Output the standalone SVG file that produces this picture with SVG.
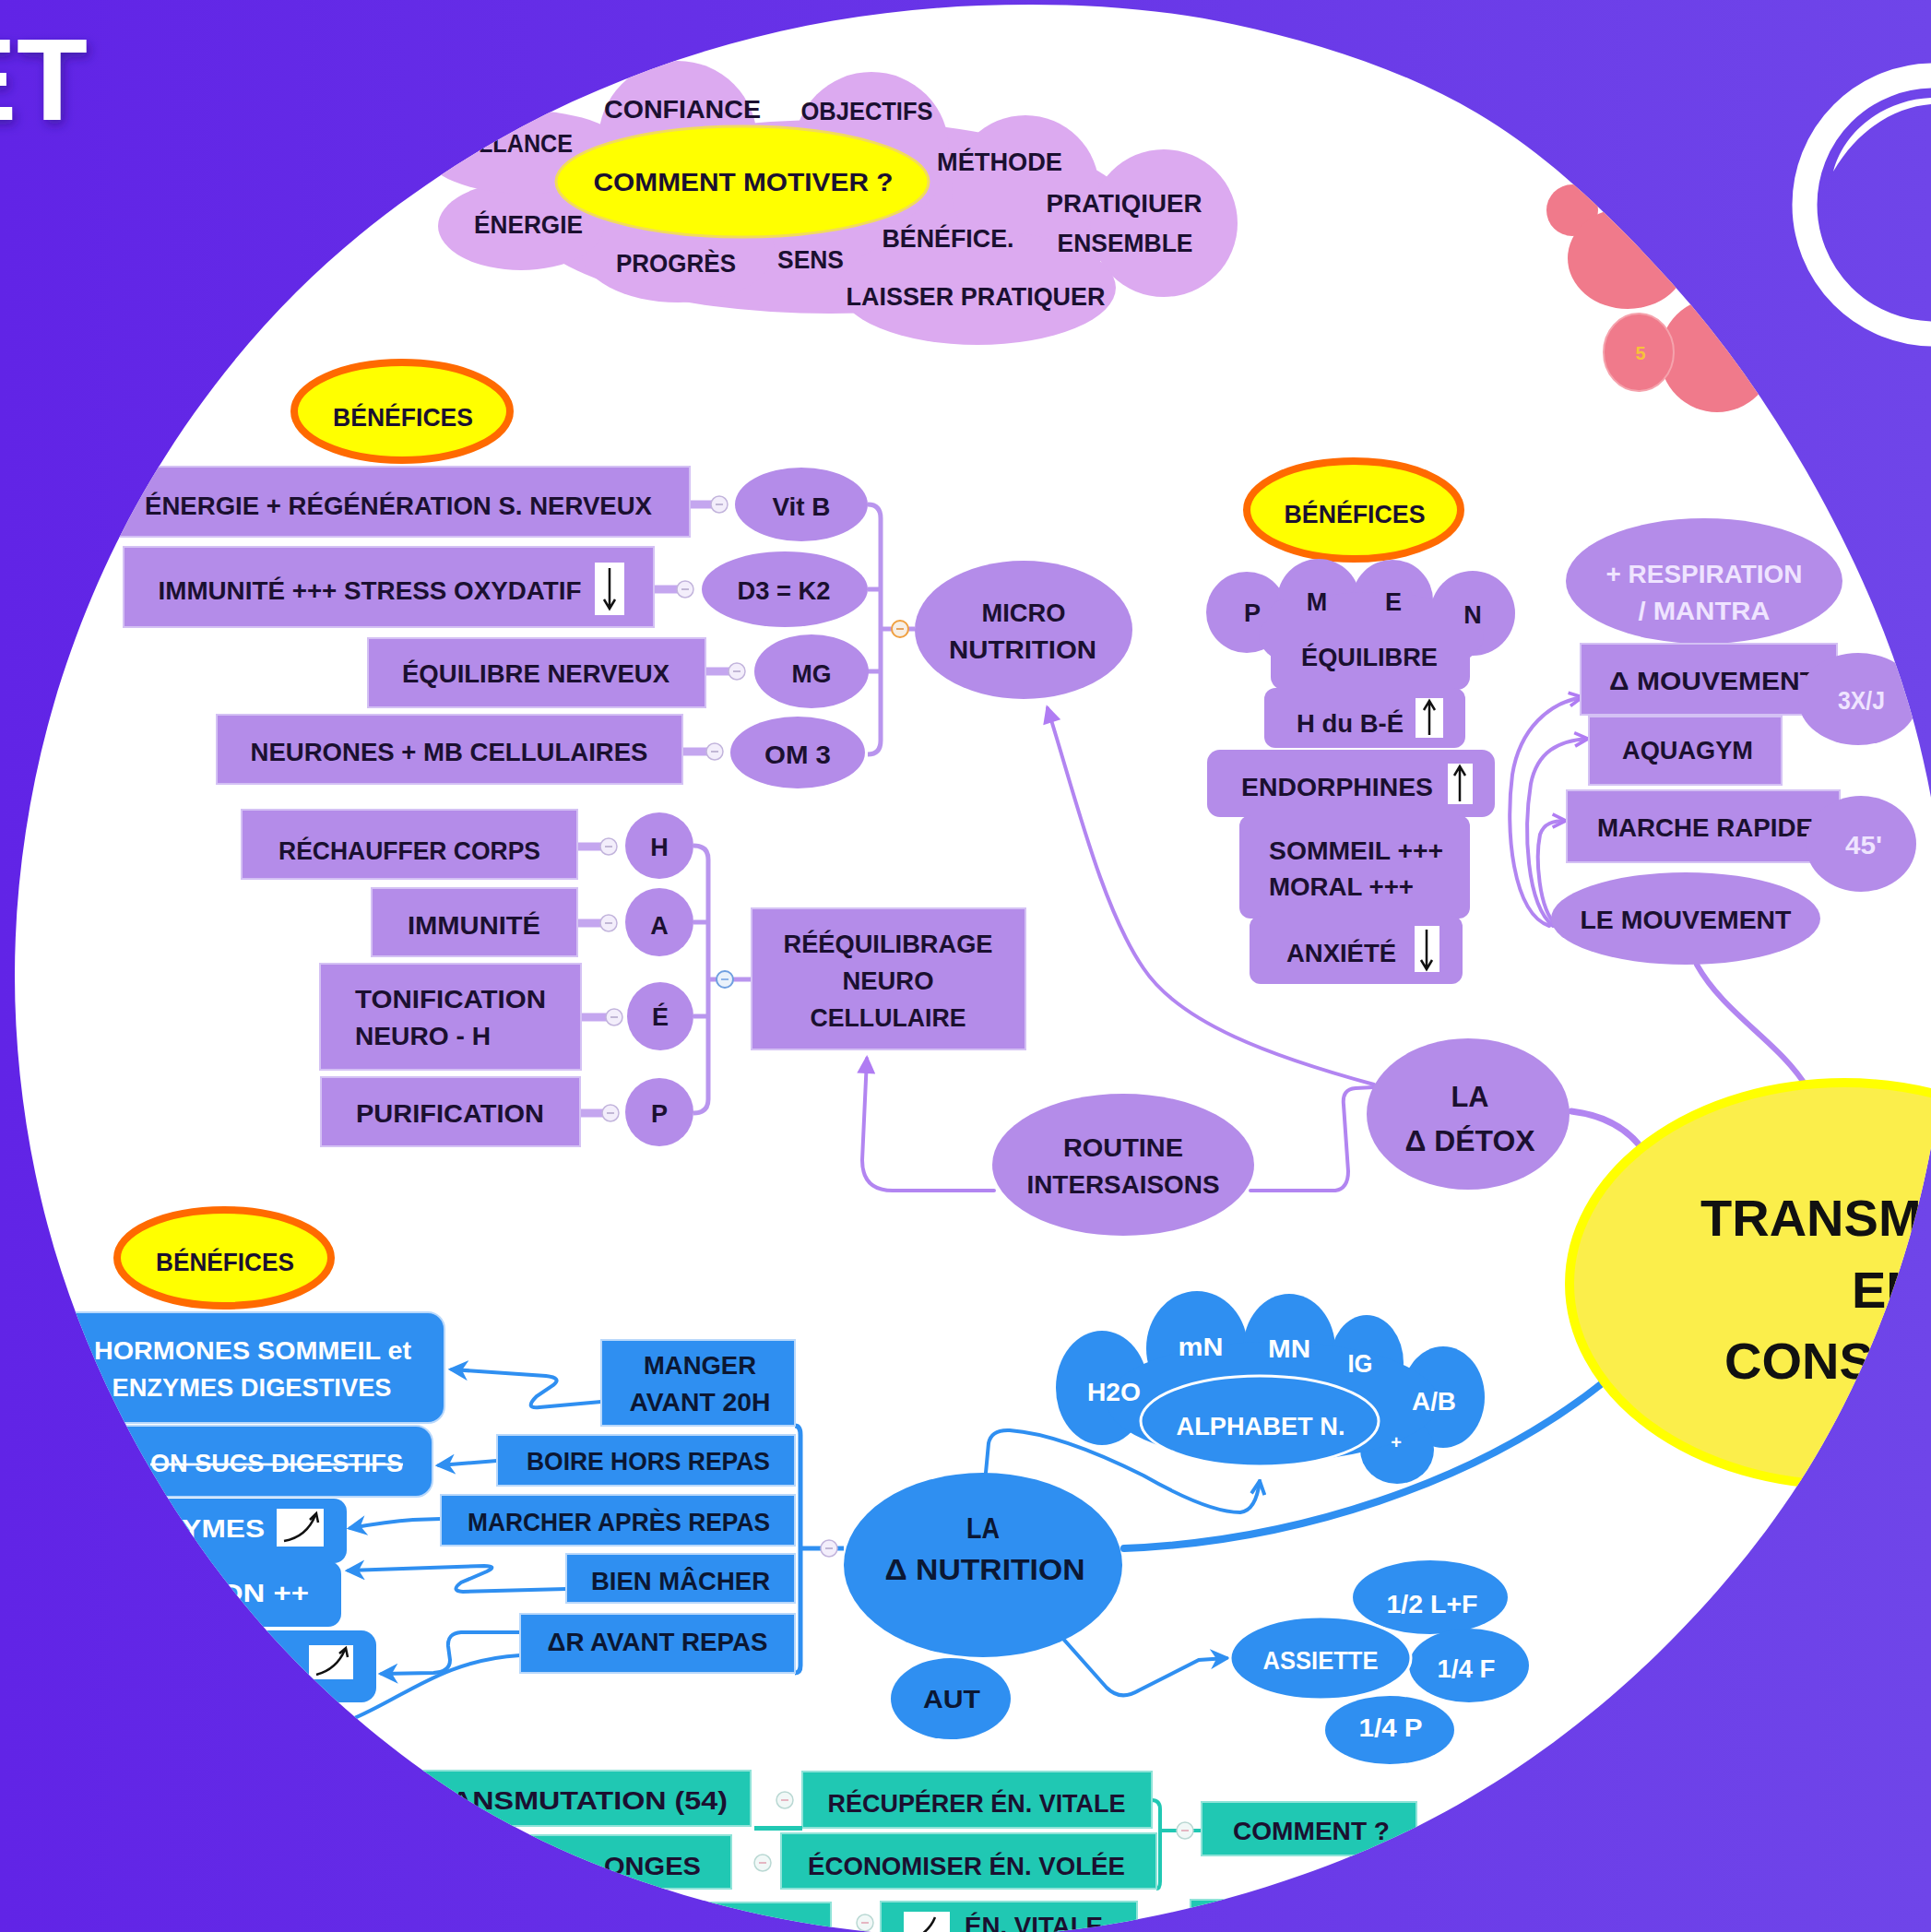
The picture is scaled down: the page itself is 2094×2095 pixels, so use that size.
<svg xmlns="http://www.w3.org/2000/svg" width="2094" height="2095" viewBox="0 0 2094 2095">
<defs>
<linearGradient id="bg" x1="0" y1="0" x2="1" y2="0">
<stop offset="0" stop-color="#6124e6"/><stop offset="1" stop-color="#6f45e9"/>
</linearGradient>
<path id="discShape" d="M16,1058 C16,967.77 28.48,874.55 51.7,787.3 C74.92,700.05 110.42,612.88 155.3,534.5 C200.18,456.12 257.05,380.72 321,317 C384.95,253.28 460.62,197.08 539,152.2 C617.38,107.32 704.13,72.07 791.3,47.7 C878.47,23.33 970.82,9.55 1062,6 C1153.18,2.45 1248.4,6.95 1338.4,26.4 C1428.4,45.85 1522.9,75.93 1602,122.7 C1681.1,169.47 1751.45,238.62 1813,307 C1874.55,375.38 1927.43,453.12 1971.3,533 C2015.17,612.88 2052.75,698.8 2076.2,786.3 C2099.65,873.8 2112.32,967.52 2112,1058 C2111.68,1148.48 2098.33,1242.03 2074.3,1329.2 C2050.27,1416.37 2013.95,1503.63 1967.8,1581 C1921.65,1658.37 1861.87,1730.75 1797.4,1793.4 C1732.93,1856.05 1658.88,1912.68 1581,1956.9 C1503.12,2001.12 1416.6,2034.85 1330.1,2058.7 C1243.6,2082.55 1151.8,2098.4 1062,2100 C972.2,2101.6 878.97,2090.12 791.3,2068.3 C703.63,2046.48 614.63,2013.73 536,1969.1 C457.37,1924.47 382.82,1865.18 319.5,1800.5 C256.18,1735.82 200.73,1659.63 156.1,1581 C111.47,1502.37 75.05,1415.87 51.7,1328.7 C28.35,1241.53 16,1148.23 16,1058 Z"/>
<clipPath id="disc"><use href="#discShape"/></clipPath>
<filter id="sh" x="-30%" y="-30%" width="160%" height="160%"><feDropShadow dx="3" dy="5" stdDeviation="6" flood-color="#2b0c7a" flood-opacity="0.55"/></filter>
<marker id="mP" viewBox="0 0 10 10" refX="8" refY="5" markerWidth="22" markerHeight="20" markerUnits="userSpaceOnUse" orient="auto"><path d="M0,0 L10,5 L0,10 Z" fill="#b07cf3"/></marker>
<marker id="mPo" viewBox="0 0 10 10" refX="9" refY="5" markerWidth="18" markerHeight="18" markerUnits="userSpaceOnUse" orient="auto"><path d="M1,1 L9,5 L1,9" fill="none" stroke="#b07cf3" stroke-width="2"/></marker>
<marker id="mB" viewBox="0 0 10 10" refX="8" refY="5" markerWidth="22" markerHeight="22" markerUnits="userSpaceOnUse" orient="auto"><path d="M0,0 L10,5 L0,10 L3,5 Z" fill="#2f8ff1"/></marker>
<marker id="mBo" viewBox="0 0 10 10" refX="9" refY="5" markerWidth="18" markerHeight="18" markerUnits="userSpaceOnUse" orient="auto"><path d="M1,1 L9,5 L1,9" fill="none" stroke="#2f8ff1" stroke-width="2.2"/></marker>
<g id="icP"><circle r="9" fill="#f3eefb" stroke="#c2b4dc" stroke-width="1.5"/><path d="M-4,0H4" stroke="#b0a4c8" stroke-width="1.5"/></g>
<g id="icO"><circle r="9" fill="#f7efe6" stroke="#f0a040" stroke-width="2"/><path d="M-4,0H4" stroke="#e08a30" stroke-width="1.5"/></g>
<g id="icB"><circle r="9" fill="#eaf2fb" stroke="#6f9fe0" stroke-width="2"/><path d="M-4,0H4" stroke="#6f9fe0" stroke-width="1.5"/></g>
<g id="icT"><circle r="9" fill="#f1f8f7" stroke="#b9d8d3" stroke-width="1.5"/><path d="M-4,0H4" stroke="#e0a0b0" stroke-width="1.5"/></g>
</defs>
<style>
.t{font-family:"Liberation Sans",Arial,sans-serif;font-weight:700;font-size:27px;fill:#1b1030;text-anchor:middle}
.s{text-anchor:start}
.e{text-anchor:end}
.w{fill:#ffffff}
.l{fill:#efe4ff}
.n{fill:#0b1733}
.big{font-size:31px}
.cl{fill:#dcaaf0}
.pn{fill:#b48ce9}
.pr{fill:#b48ce9;stroke:#d4c1f4;stroke-width:2}
.bl{fill:#2f8ff1}
.br{fill:#2f8ff1;stroke:#b9d8fb;stroke-width:2}
.tl{fill:#20c8b3;stroke:#8fe3d8;stroke-width:2}
.be{fill:#ffff00;stroke:#ff6a00;stroke-width:8}
.cp{fill:none;stroke:#b285f1;stroke-width:4;stroke-linecap:round}
.cb{fill:none;stroke:#2f8ff1;stroke-width:4;stroke-linecap:round}
.stub{stroke:#c4a6ef;stroke-width:9}
.brk{fill:none;stroke:#b995ee;stroke-width:5}
.wb{fill:#ffffff}
.ar{fill:none;stroke:#111;stroke-width:2.5}
</style>
<rect width="2094" height="2095" fill="url(#bg)"/>
<use href="#discShape" fill="#ffffff"/>

<g clip-path="url(#disc)">

<g id="pink-shapes" fill="#f07a8b">
<circle cx="1705" cy="228" r="28"/>
<ellipse cx="1765" cy="280" rx="65" ry="55"/>
<ellipse cx="1862" cy="385" rx="62" ry="62"/>
<ellipse cx="1777" cy="382" rx="38" ry="42" stroke="#f5a3ad" stroke-width="2"/>
<text x="1779" y="390" font-family="Liberation Sans,Arial,sans-serif" font-weight="700" font-size="20" fill="#f7c23a" text-anchor="middle">5</text>
</g>

<g id="connectors">
<path class="cp" d="M1490,1176 C1380,1146 1280,1110 1240,1050 C1195,985 1165,860 1136,768" marker-end="url(#mP)"/>
<path class="cp" d="M1078,1291 L968,1291 Q935,1291 935,1258 L940,1148" marker-end="url(#mP)"/>
<path class="cp" d="M1356,1291 L1448,1291 Q1462,1289 1462,1270 L1457,1198 Q1455,1181 1470,1180 L1490,1179"/>
<path class="cp" d="M1680,1004 C1640,990 1632,900 1640,840 C1648,790 1680,762 1716,756" marker-end="url(#mPo)"/>
<path class="cp" d="M1684,1004 C1655,980 1652,900 1660,850 C1667,815 1690,803 1722,801" marker-end="url(#mPo)"/>
<path class="cp" d="M1688,1004 C1668,985 1665,930 1670,905 C1674,893 1684,890 1698,890" marker-end="url(#mPo)"/>
<path fill="none" stroke="#b285f1" stroke-width="6" stroke-linecap="round" d="M1840,1046 C1870,1100 1930,1130 1960,1180"/>
<path fill="none" stroke="#b285f1" stroke-width="7" stroke-linecap="round" d="M1704,1205 C1745,1210 1770,1228 1785,1252"/>
<path fill="none" stroke="#2f8ff1" stroke-width="8" stroke-linecap="round" d="M1219,1679 C1400,1672 1600,1610 1740,1498"/>
<path class="cb" d="M1069,1597 L1072,1565 Q1075,1550 1095,1551 Q1150,1555 1240,1600 Q1310,1640 1345,1640 Q1362,1638 1366,1606" marker-end="url(#mBo)"/>
<path class="cb" d="M1136,1758 L1200,1830 Q1215,1845 1235,1833 L1300,1800 L1330,1798" marker-end="url(#mB)"/>
<path class="cb" d="M652,1520 L585,1526 Q568,1528 582,1514 L600,1502 Q610,1494 592,1492 L490,1485" marker-end="url(#mB)"/>
<path class="cb" d="M539,1584 L476,1589" marker-end="url(#mB)"/>
<path class="cb" d="M478,1647 L448,1648 Q420,1650 380,1657" marker-end="url(#mB)"/>
<path class="cb" d="M614,1723 L502,1726 Q488,1725 500,1716 L528,1704 Q540,1698 525,1698 L378,1703" marker-end="url(#mB)"/>
<path class="cb" d="M564,1770 L500,1770 Q485,1771 486,1785 L488,1800 Q488,1813 470,1814 L414,1815" marker-end="url(#mB)"/>
<path class="cb" d="M564,1795 C480,1800 440,1840 380,1865"/>
<path class="brk" d="M941,547 Q955,547 955,562 V803 Q955,818 941,818 M941,639 H955 M941,728 H955 M955,682 H992"/>
<path class="brk" d="M752,917 Q768,917 768,932 V1192 Q768,1207 752,1207 M752,1000 H768 M752,1102 H768 M768,1062 H815"/>
<path fill="none" stroke="#2f8ff1" stroke-width="5" d="M862,1546 Q868,1546 868,1556 V1806 Q868,1814 862,1814 M868,1679 H915"/>
<path fill="none" stroke="#20c8b3" stroke-width="4" d="M1249,1952 Q1258,1952 1258,1962 V2040 Q1258,2048 1254,2048 M1258,1985 H1303"/>
<g class="stub">
<line x1="746" y1="547" x2="772" y2="547"/><line x1="709" y1="639" x2="735" y2="639"/><line x1="765" y1="728" x2="791" y2="728"/><line x1="740" y1="815" x2="767" y2="815"/>
<line x1="626" y1="918" x2="652" y2="918"/><line x1="626" y1="1001" x2="652" y2="1001"/><line x1="630" y1="1103" x2="658" y2="1103"/><line x1="629" y1="1207" x2="654" y2="1207"/>
</g>
</g>

<g id="node-motiver">
<g class="cl">
<ellipse cx="900" cy="235" rx="330" ry="105"/>
<circle cx="735" cy="152" r="86"/>
<circle cx="945" cy="162" r="84"/>
<circle cx="1112" cy="205" r="80"/>
<circle cx="1262" cy="242" r="80"/>
<ellipse cx="1060" cy="312" rx="150" ry="62"/>
<ellipse cx="735" cy="272" rx="105" ry="56"/>
<ellipse cx="565" cy="245" rx="90" ry="48"/>
<ellipse cx="570" cy="165" rx="110" ry="45"/>
</g>
<ellipse cx="805" cy="197" rx="202" ry="60" fill="#ffff00" stroke="#f2dc5a" stroke-width="3"/>
<text class="t" x="740" y="128" textLength="170" lengthAdjust="spacingAndGlyphs">CONFIANCE</text>
<text class="t" x="940" y="130" textLength="143" lengthAdjust="spacingAndGlyphs">OBJECTIFS</text>
<text class="t s" x="512" y="165" textLength="109" lengthAdjust="spacingAndGlyphs">ILLANCE</text>
<text class="t" x="806" y="207" textLength="325" lengthAdjust="spacingAndGlyphs">COMMENT MOTIVER ?</text>
<text class="t" x="1084" y="185" textLength="136" lengthAdjust="spacingAndGlyphs">MÉTHODE</text>
<text class="t" x="573" y="253" textLength="118" lengthAdjust="spacingAndGlyphs">ÉNERGIE</text>
<text class="t" x="1219" y="230" textLength="169" lengthAdjust="spacingAndGlyphs">PRATIQIUER</text>
<text class="t" x="1028" y="268" textLength="143" lengthAdjust="spacingAndGlyphs">BÉNÉFICE.</text>
<text class="t" x="1220" y="273" textLength="147" lengthAdjust="spacingAndGlyphs">ENSEMBLE</text>
<text class="t" x="733" y="295" textLength="130" lengthAdjust="spacingAndGlyphs">PROGRÈS</text>
<text class="t" x="879" y="291" textLength="72" lengthAdjust="spacingAndGlyphs">SENS</text>
<text class="t" x="1058" y="331" textLength="281" lengthAdjust="spacingAndGlyphs">LAISSER PRATIQUER</text>
</g>

<g id="node-benefices-1">
<ellipse class="be" cx="436" cy="446" rx="117" ry="53"/>
<text class="t" x="437" y="462" textLength="152" lengthAdjust="spacingAndGlyphs">BÉNÉFICES</text>
</g>

<g id="node-energie">
<rect class="pr" x="100" y="506" width="648" height="76"/>
<text class="t" x="432" y="558" textLength="550" lengthAdjust="spacingAndGlyphs">ÉNERGIE + RÉGÉNÉRATION S. NERVEUX</text>
</g>
<g id="node-immunite-stress">
<rect class="pr" x="134" y="593" width="575" height="87"/>
<text class="t" x="401" y="650" textLength="459" lengthAdjust="spacingAndGlyphs">IMMUNITÉ +++ STRESS OXYDATIF</text>
<rect class="wb" x="645" y="610" width="32" height="57"/>
<path class="ar" d="M661,616 V659 M655,650 L661,660 L667,650"/>
</g>
<g id="node-equilibre-nerveux">
<rect class="pr" x="399" y="692" width="366" height="75"/>
<text class="t" x="581" y="740" textLength="290" lengthAdjust="spacingAndGlyphs">ÉQUILIBRE NERVEUX</text>
</g>
<g id="node-neurones">
<rect class="pr" x="235" y="775" width="505" height="75"/>
<text class="t" x="487" y="825" textLength="431" lengthAdjust="spacingAndGlyphs">NEURONES + MB CELLULAIRES</text>
</g>
<g id="node-vitb"><ellipse class="pn" cx="869" cy="547" rx="72" ry="40"/><text class="t" x="869" y="559" textLength="63" lengthAdjust="spacingAndGlyphs">Vit B</text></g>
<g id="node-d3k2"><ellipse class="pn" cx="851" cy="639" rx="90" ry="41"/><text class="t" x="850" y="650" textLength="101" lengthAdjust="spacingAndGlyphs">D3 = K2</text></g>
<g id="node-mg"><ellipse class="pn" cx="880" cy="728" rx="62" ry="40"/><text class="t" x="880" y="740" textLength="43" lengthAdjust="spacingAndGlyphs">MG</text></g>
<g id="node-om3"><ellipse class="pn" cx="865" cy="816" rx="73" ry="39"/><text class="t" x="865" y="828" textLength="72" lengthAdjust="spacingAndGlyphs">OM 3</text></g>
<g id="icons-1">
<use href="#icP" x="780" y="547"/><use href="#icP" x="743" y="639"/><use href="#icP" x="799" y="728"/><use href="#icP" x="775" y="815"/>
<use href="#icO" x="976" y="682"/>
</g>
<g id="node-micro-nutrition">
<ellipse class="pn" cx="1110" cy="683" rx="118" ry="75"/>
<text class="t" x="1110" y="674" textLength="91" lengthAdjust="spacingAndGlyphs">MICRO</text>
<text class="t" x="1109" y="714" textLength="160" lengthAdjust="spacingAndGlyphs">NUTRITION</text>
</g>

<g id="node-rechauffer"><rect class="pr" x="262" y="878" width="364" height="75"/><text class="t" x="444" y="932" textLength="284" lengthAdjust="spacingAndGlyphs">RÉCHAUFFER CORPS</text></g>
<g id="node-immunite"><rect class="pr" x="403" y="963" width="223" height="74"/><text class="t" x="514" y="1013" textLength="144" lengthAdjust="spacingAndGlyphs">IMMUNITÉ</text></g>
<g id="node-tonification"><rect class="pr" x="347" y="1045" width="283" height="115"/><text class="t s" x="385" y="1093" textLength="207" lengthAdjust="spacingAndGlyphs">TONIFICATION</text><text class="t s" x="385" y="1133" textLength="147" lengthAdjust="spacingAndGlyphs">NEURO - H</text></g>
<g id="node-purification"><rect class="pr" x="348" y="1168" width="281" height="75"/><text class="t" x="488" y="1217" textLength="204" lengthAdjust="spacingAndGlyphs">PURIFICATION</text></g>
<g id="node-h"><ellipse class="pn" cx="715" cy="917" rx="37" ry="36"/><text class="t" x="715" y="928">H</text></g>
<g id="node-a"><ellipse class="pn" cx="715" cy="1000" rx="37" ry="37"/><text class="t" x="715" y="1013">A</text></g>
<g id="node-e"><ellipse class="pn" cx="716" cy="1102" rx="36" ry="37"/><text class="t" x="716" y="1112">É</text></g>
<g id="node-p"><ellipse class="pn" cx="715" cy="1206" rx="37" ry="37"/><text class="t" x="715" y="1217">P</text></g>
<g id="icons-2">
<use href="#icP" x="660" y="918"/><use href="#icP" x="660" y="1001"/><use href="#icP" x="666" y="1103"/><use href="#icP" x="662" y="1207"/>
<use href="#icB" x="786" y="1062"/>
</g>
<g id="node-reequilibrage">
<rect class="pr" x="815" y="985" width="297" height="153"/>
<text class="t" x="963" y="1033" textLength="227" lengthAdjust="spacingAndGlyphs">RÉÉQUILIBRAGE</text>
<text class="t" x="963" y="1073" textLength="99" lengthAdjust="spacingAndGlyphs">NEURO</text>
<text class="t" x="963" y="1113" textLength="169" lengthAdjust="spacingAndGlyphs">CELLULAIRE</text>
</g>
<g id="node-routine">
<ellipse class="pn" cx="1218" cy="1263" rx="142" ry="77"/>
<text class="t" x="1218" y="1254" textLength="130" lengthAdjust="spacingAndGlyphs">ROUTINE</text>
<text class="t" x="1218" y="1294" textLength="209" lengthAdjust="spacingAndGlyphs">INTERSAISONS</text>
</g>
<g id="node-detox">
<ellipse class="pn" cx="1592" cy="1208" rx="110" ry="82"/>
<text class="t big" x="1594" y="1200" textLength="41" lengthAdjust="spacingAndGlyphs">LA</text>
<text class="t big" x="1594" y="1248" textLength="141" lengthAdjust="spacingAndGlyphs">Δ DÉTOX</text>
</g>

<g id="node-benefices-2">
<ellipse class="be" cx="1468" cy="553" rx="116" ry="53"/>
<text class="t" x="1469" y="567" textLength="153" lengthAdjust="spacingAndGlyphs">BÉNÉFICES</text>
</g>
<g id="node-pmen">
<g class="pn">
<circle cx="1352" cy="664" r="44"/><circle cx="1430" cy="651" r="45"/><circle cx="1510" cy="651" r="44"/><circle cx="1597" cy="665" r="46"/>
<ellipse cx="1487" cy="690" rx="122" ry="48"/>
<rect x="1378" y="650" width="216" height="98" rx="14"/>
</g>
<text class="t" x="1358" y="674">P</text>
<text class="t" x="1428" y="662">M</text>
<text class="t" x="1511" y="662">E</text>
<text class="t" x="1597" y="676">N</text>
<text class="t" x="1485" y="722" textLength="148" lengthAdjust="spacingAndGlyphs">ÉQUILIBRE</text>
</g>
<g id="node-hdube">
<rect class="pn" x="1371" y="746" width="218" height="65" rx="12"/>
<text class="t s" x="1406" y="794" textLength="116" lengthAdjust="spacingAndGlyphs">H du B-É</text>
<rect class="wb" x="1535" y="757" width="30" height="43"/>
<path class="ar" d="M1550,797 V761 M1544,770 L1550,760 L1556,770"/>
</g>
<g id="node-endorphines">
<rect class="pn" x="1309" y="813" width="312" height="73" rx="14"/>
<text class="t s" x="1346" y="863" textLength="208" lengthAdjust="spacingAndGlyphs">ENDORPHINES</text>
<rect class="wb" x="1570" y="828" width="27" height="44"/>
<path class="ar" d="M1583,869 V832 M1577,841 L1583,831 L1589,841"/>
</g>
<g id="node-sommeil">
<rect class="pn" x="1344" y="884" width="250" height="112" rx="12"/>
<text class="t s" x="1376" y="932" textLength="189" lengthAdjust="spacingAndGlyphs">SOMMEIL +++</text>
<text class="t s" x="1376" y="971" textLength="157" lengthAdjust="spacingAndGlyphs">MORAL +++</text>
</g>
<g id="node-anxiete">
<rect class="pn" x="1355" y="993" width="231" height="74" rx="12"/>
<text class="t s" x="1395" y="1043" textLength="119" lengthAdjust="spacingAndGlyphs">ANXIÉTÉ</text>
<rect class="wb" x="1534" y="1004" width="27" height="50"/>
<path class="ar" d="M1547,1008 V1050 M1541,1041 L1547,1051 L1553,1041"/>
</g>

<g id="node-respiration">
<ellipse class="pn" cx="1848" cy="630" rx="150" ry="68"/>
<text class="t l" x="1848" y="632" textLength="213" lengthAdjust="spacingAndGlyphs">+ RESPIRATION</text>
<text class="t l" x="1848" y="672" textLength="143" lengthAdjust="spacingAndGlyphs">/ MANTRA</text>
</g>
<g id="node-delta-mouvement">
<rect class="pr" x="1714" y="698" width="278" height="77"/>
<text class="t s" x="1745" y="748" textLength="225" lengthAdjust="spacingAndGlyphs">Δ MOUVEMENT</text>
</g>
<g id="node-3xj"><ellipse class="pn" cx="2015" cy="758" rx="65" ry="50"/><text class="t s l" x="1993" y="769" textLength="51" lengthAdjust="spacingAndGlyphs">3X/J</text></g>
<g id="node-aquagym"><rect class="pr" x="1723" y="777" width="209" height="74"/><text class="t" x="1830" y="823" textLength="142" lengthAdjust="spacingAndGlyphs">AQUAGYM</text></g>
<g id="node-marche">
<rect class="pr" x="1699" y="857" width="296" height="78"/>
<text class="t s" x="1732" y="907" textLength="234" lengthAdjust="spacingAndGlyphs">MARCHE RAPIDE</text>
</g>
<g id="node-45"><ellipse class="pn" cx="2018" cy="915" rx="60" ry="52"/><text class="t s l" x="2001" y="926" textLength="40" lengthAdjust="spacingAndGlyphs">45'</text></g>
<g id="node-le-mouvement">
<ellipse class="pn" cx="1828" cy="996" rx="146" ry="50"/>
<text class="t" x="1828" y="1007" textLength="229" lengthAdjust="spacingAndGlyphs">LE MOUVEMENT</text>
</g>

<g id="node-transmission">
<ellipse cx="2000" cy="1392" rx="298" ry="218" fill="#fbee4b" stroke="#ffff00" stroke-width="10"/>
<text class="t s" x="1844" y="1340" style="font-size:56px;fill:#111">TRANSM</text>
<text class="t s" x="2008" y="1418" style="font-size:56px;fill:#111">EN</text>
<text class="t s" x="1870" y="1495" style="font-size:56px;fill:#111">CONS</text>
</g>

<g id="node-benefices-3">
<ellipse class="be" cx="243" cy="1364" rx="116" ry="52"/>
<text class="t" x="244" y="1378" textLength="150" lengthAdjust="spacingAndGlyphs">BÉNÉFICES</text>
</g>
<g id="node-hormones">
<rect class="br" x="40" y="1423" width="442" height="120" rx="18"/>
<text class="t w" x="274" y="1474" textLength="344" lengthAdjust="spacingAndGlyphs">HORMONES SOMMEIL et</text>
<text class="t w" x="273" y="1514" textLength="303" lengthAdjust="spacingAndGlyphs">ENZYMES DIGESTIVES</text>
</g>
<g id="node-sucs">
<rect class="br" x="60" y="1546" width="409" height="77" rx="18"/>
<text class="t w e" x="437" y="1596" textLength="274" lengthAdjust="spacingAndGlyphs" text-decoration="line-through">ON SUCS DIGESTIFS</text>
</g>
<g id="node-zymes">
<rect class="bl" x="100" y="1625" width="276" height="70" rx="14"/>
<text class="t w e" x="287" y="1667" textLength="109" lengthAdjust="spacingAndGlyphs">ZYMES</text>
<rect class="wb" x="300" y="1636" width="51" height="41"/>
<path class="ar" d="M308,1671 C325,1668 336,1658 342,1643 M336,1648 L343,1641 L345,1651" stroke-width="3"/>
</g>
<g id="node-on">
<rect class="bl" x="100" y="1693" width="270" height="71" rx="14"/>
<text class="t w e" x="335" y="1737" textLength="97" lengthAdjust="spacingAndGlyphs">ON ++</text>
</g>
<g id="node-bottom-blue">
<rect class="bl" x="150" y="1768" width="258" height="78" rx="16"/>
<rect class="wb" x="335" y="1784" width="48" height="37"/>
<path class="ar" d="M343,1816 C358,1812 368,1803 374,1789 M368,1793 L375,1787 L377,1797" stroke-width="3"/>
</g>
<g id="node-manger"><rect class="br" x="652" y="1453" width="210" height="93"/><text class="t n" x="759" y="1490" textLength="122" lengthAdjust="spacingAndGlyphs">MANGER</text><text class="t n" x="759" y="1530" textLength="153" lengthAdjust="spacingAndGlyphs">AVANT 20H</text></g>
<g id="node-boire"><rect class="br" x="539" y="1556" width="323" height="55"/><text class="t n" x="703" y="1594" textLength="264" lengthAdjust="spacingAndGlyphs">BOIRE HORS REPAS</text></g>
<g id="node-marcher"><rect class="br" x="478" y="1621" width="384" height="55"/><text class="t n" x="671" y="1660" textLength="328" lengthAdjust="spacingAndGlyphs">MARCHER APRÈS REPAS</text></g>
<g id="node-macher"><rect class="br" x="614" y="1685" width="248" height="53"/><text class="t n" x="738" y="1724" textLength="194" lengthAdjust="spacingAndGlyphs">BIEN MÂCHER</text></g>
<g id="node-dr"><rect class="br" x="564" y="1750" width="298" height="64"/><text class="t n" x="713" y="1790" textLength="239" lengthAdjust="spacingAndGlyphs">ΔR AVANT REPAS</text></g>
<use href="#icP" x="899" y="1679"/>
<g id="node-nutrition">
<ellipse class="bl" cx="1066" cy="1697" rx="151" ry="100"/>
<text class="t big n" x="1066" y="1668" textLength="36" lengthAdjust="spacingAndGlyphs">LA</text>
<text class="t big n" x="1068" y="1713" textLength="217" lengthAdjust="spacingAndGlyphs">Δ NUTRITION</text>
</g>
<g id="node-alphabet">
<g class="bl">
<ellipse cx="1195" cy="1505" rx="50" ry="62"/>
<ellipse cx="1298" cy="1462" rx="55" ry="62"/>
<ellipse cx="1398" cy="1463" rx="50" ry="60"/>
<ellipse cx="1482" cy="1478" rx="40" ry="52"/>
<ellipse cx="1565" cy="1515" rx="45" ry="55"/>
<ellipse cx="1515" cy="1572" rx="40" ry="37"/>
<ellipse cx="1380" cy="1520" rx="180" ry="65"/>
</g>
<text class="t w" x="1208" y="1519" textLength="58" lengthAdjust="spacingAndGlyphs">H2O</text>
<text class="t w" x="1302" y="1470" textLength="49" lengthAdjust="spacingAndGlyphs">mN</text>
<text class="t w" x="1398" y="1472" textLength="46" lengthAdjust="spacingAndGlyphs">MN</text>
<text class="t w" x="1475" y="1488" textLength="27" lengthAdjust="spacingAndGlyphs">IG</text>
<text class="t w" x="1555" y="1529" textLength="48" lengthAdjust="spacingAndGlyphs">A/B</text>
<text class="t w" x="1514" y="1571" style="font-size:20px">+</text>
<ellipse cx="1366" cy="1541" rx="129" ry="49" fill="#2f8ff1" stroke="#ffffff" stroke-width="3"/>
<text class="t w" x="1367" y="1556" textLength="183" lengthAdjust="spacingAndGlyphs">ALPHABET N.</text>
</g>
<g id="node-assiette">
<ellipse class="bl" cx="1551" cy="1732" rx="84" ry="40"/>
<ellipse class="bl" cx="1593" cy="1806" rx="65" ry="40"/>
<ellipse class="bl" cx="1507" cy="1876" rx="70" ry="37"/>
<text class="t w" x="1553" y="1749" textLength="99" lengthAdjust="spacingAndGlyphs">1/2 L+F</text>
<text class="t w" x="1590" y="1819" textLength="63" lengthAdjust="spacingAndGlyphs">1/4 F</text>
<text class="t w" x="1508" y="1883" textLength="69" lengthAdjust="spacingAndGlyphs">1/4 P</text>
<ellipse cx="1432" cy="1798" rx="98" ry="45" fill="#2f8ff1" stroke="#ffffff" stroke-width="3"/>
<text class="t w" x="1432" y="1810" textLength="125" lengthAdjust="spacingAndGlyphs">ASSIETTE</text>
</g>
<g id="node-aut">
<ellipse class="bl" cx="1031" cy="1842" rx="65" ry="44"/>
<text class="t n" x="1032" y="1852" textLength="62" lengthAdjust="spacingAndGlyphs">AUT</text>
</g>

<g id="teal-section">
<rect class="tl" x="400" y="1920" width="414" height="60"/>
<text class="t e" x="789" y="1962" textLength="300" lengthAdjust="spacingAndGlyphs">ANSMUTATION (54)</text>
<rect class="tl" x="870" y="1921" width="379" height="61"/>
<text class="t" x="1059" y="1965" textLength="323" lengthAdjust="spacingAndGlyphs">RÉCUPÉRER ÉN. VITALE</text>
<rect x="818" y="1980" width="52" height="5" fill="#20c8b3"/>
<rect class="tl" x="400" y="1990" width="393" height="58"/>
<text class="t e" x="760" y="2033" textLength="105" lengthAdjust="spacingAndGlyphs">ONGES</text>
<rect class="tl" x="847" y="1988" width="407" height="60"/>
<text class="t" x="1048" y="2033" textLength="344" lengthAdjust="spacingAndGlyphs">ÉCONOMISER ÉN. VOLÉE</text>
<rect class="tl" x="1303" y="1954" width="233" height="58"/>
<text class="t" x="1422" y="1995" textLength="170" lengthAdjust="spacingAndGlyphs">COMMENT ?</text>
<rect class="tl" x="549" y="2063" width="352" height="50"/>
<rect class="tl" x="955" y="2062" width="278" height="50"/>
<rect class="wb" x="980" y="2073" width="50" height="35"/>
<path class="ar" d="M992,2102 C1002,2097 1010,2089 1014,2079" stroke-width="3"/>
<text class="t s" x="1046" y="2098" textLength="150" lengthAdjust="spacingAndGlyphs">ÉN. VITALE</text>
<rect class="tl" x="1291" y="2060" width="80" height="50"/>
<use href="#icT" x="851" y="1952"/><use href="#icT" x="827" y="2020"/><use href="#icT" x="938" y="2085"/><use href="#icT" x="1285" y="1985"/>
</g>

</g>

<g id="title">
<text x="-66" y="130" font-family="Liberation Sans,Arial,sans-serif" font-weight="700" font-size="126" fill="#ffffff" filter="url(#sh)">ET</text>
</g>
<g id="ring">
<circle cx="2097" cy="222" r="140" fill="none" stroke="#ffffff" stroke-width="27"/>
<path fill="#ffffff" d="M1988,186 C2000,140 2045,108 2094,106 L2094,113 C2055,116 2015,140 1988,186 Z"/>
</g>
</svg>
